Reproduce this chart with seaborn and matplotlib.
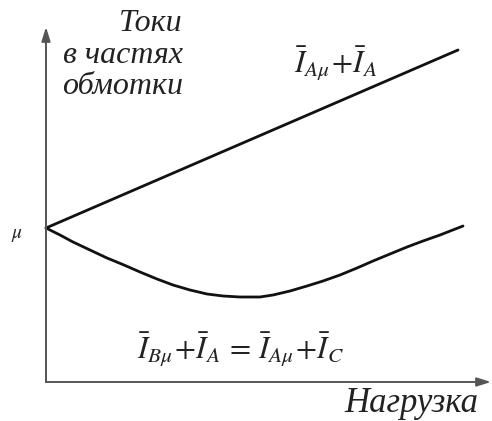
import matplotlib
matplotlib.use("Agg")
import matplotlib.pyplot as plt
import seaborn as sns
import pandas as pd

sns.set_theme(style="white")
plt.rcParams["font.family"] = ["Liberation Serif", "DejaVu Serif"]
plt.rcParams["mathtext.fontset"] = "stix"

# Load axis (arbitrary units) and winding currents
load_upper = [0, 412]
current_upper = [154, 332]
load_lower = [0, 14, 27, 44, 61, 78, 94, 111, 127, 144, 161, 177, 194, 204, 214,
              227, 244, 261, 277, 294, 311, 327, 344, 361, 377, 394, 417]
current_lower = [154, 147, 140, 132, 124, 117, 110, 103, 97, 92, 88, 86, 85, 85, 85,
                 87, 91, 96, 101, 107, 114, 121, 128, 135, 141, 147, 156]

y_label_lines = ["Токи", "в частях", "обмотки"]
x_label = "Нагрузка"
mu_label = r"$\mu$"
upper_label = r"$\bar{I}_{A\mu}\!+\!\bar{I}_{A}$"
lower_label = r"$\bar{I}_{B\mu}\!+\!\bar{I}_{A}\,=\,\bar{I}_{A\mu}\!+\!\bar{I}_{C}$"

df_up = pd.DataFrame({"load": load_upper, "current": current_upper})
df_lo = pd.DataFrame({"load": load_lower, "current": current_lower})

fig = plt.figure(figsize=(4.92, 4.21), dpi=100)
ax = fig.add_axes([0, 0, 1, 1])
ax.set_xlim(-46, 446)
ax.set_ylim(-39, 382)
ax.axis("off")

sns.lineplot(data=df_up, x="load", y="current", ax=ax, color="#111111", lw=2.0)
sns.lineplot(data=df_lo, x="load", y="current", ax=ax, color="#111111", lw=2.0)

arrow = dict(arrowstyle="-|>,head_length=0.7,head_width=0.22", color="#555555", lw=1.4, shrinkA=0, shrinkB=0)
ax.annotate("", xy=(0, 355), xytext=(0, 0), arrowprops=arrow)
ax.annotate("", xy=(445, 0), xytext=(0, 0), arrowprops=arrow)

ax.text(137, 373, "\n".join(y_label_lines), ha="right", va="top", fontsize=23,
        style="italic", color="#222222", linespacing=1.12)
ax.text(432, -22, x_label, ha="right", va="center", fontsize=25, style="italic", color="#222222")
ax.text(-29, 147, mu_label, ha="center", va="center", fontsize=14, color="#222222")
ax.text(290, 318, upper_label, ha="center", va="center", fontsize=22, color="#222222")
ax.text(195, 32, lower_label, ha="center", va="center", fontsize=22, color="#222222")

fig.savefig("out.png", dpi=100)
